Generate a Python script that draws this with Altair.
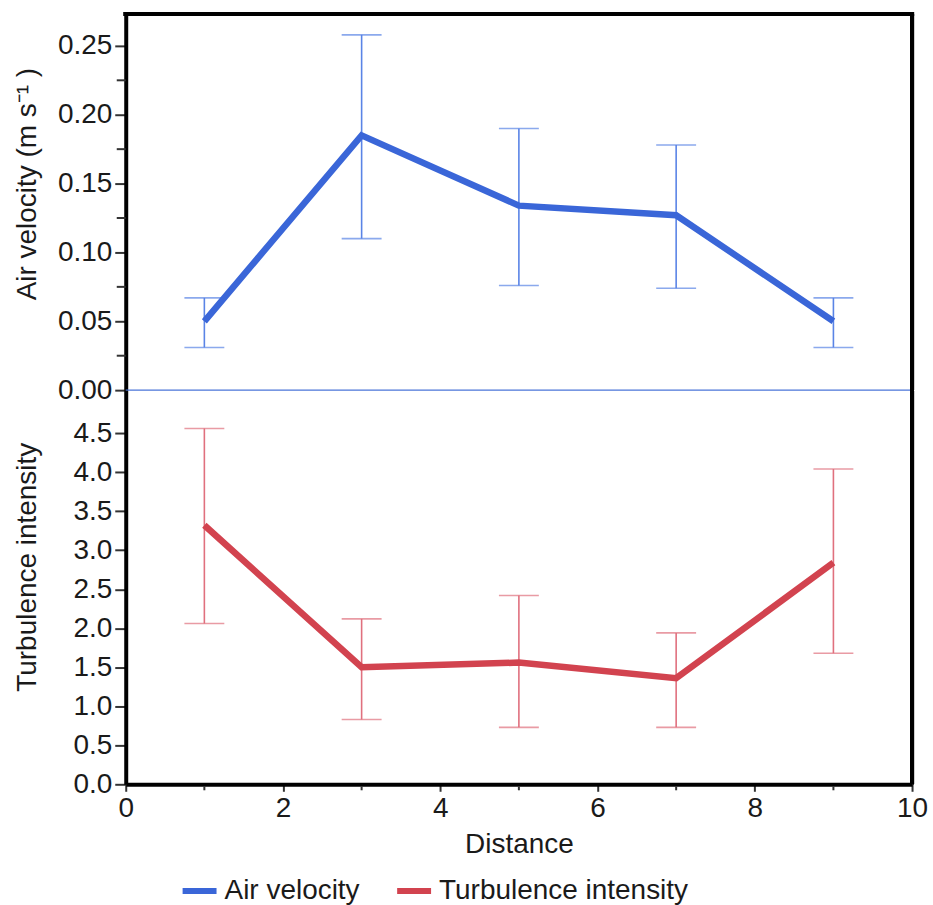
import altair as alt
import pandas as pd

# Measured profile along the distance axis
distance = [1, 3, 5, 7, 9]
air_velocity = [0.050, 0.185, 0.134, 0.127, 0.050]
air_lower = [0.031, 0.110, 0.076, 0.074, 0.031]
air_upper = [0.067, 0.258, 0.190, 0.178, 0.067]

turbulence = [3.32, 1.50, 1.56, 1.36, 2.84]
turb_lower = [2.06, 0.83, 0.73, 0.73, 1.68]
turb_upper = [4.56, 2.12, 2.42, 1.94, 4.04]

series_names = ["Air velocity", "Turbulence intensity"]
line_colors = ["#3a66d8", "#d2434f"]
bar_colors = ["#5a84e6", "#e0707e"]

x_ticks = [0, 2, 4, 6, 8, 10]
x_minor = [1, 3, 5, 7, 9]
air_ticks = [0.0, 0.05, 0.10, 0.15, 0.20, 0.25]
air_minor = [0.025, 0.075, 0.125, 0.175, 0.225]
turb_ticks = [0.0, 0.5, 1.0, 1.5, 2.0, 2.5, 3.0, 3.5, 4.0, 4.5]

W = 788
H_TOP = 377
H_BOT = 395
FONT = "Liberation Sans"
FS = 28

air_df = pd.DataFrame({
    "distance": distance, "value": air_velocity,
    "lower": air_lower, "upper": air_upper, "series": series_names[0],
})
turb_df = pd.DataFrame({
    "distance": distance, "value": turbulence,
    "lower": turb_lower, "upper": turb_upper, "series": series_names[1],
})

x_scale = alt.Scale(domain=[0, 10], nice=False, zero=False)
color_scale = alt.Scale(domain=series_names, range=line_colors)


def y_axis(title, values, fmt, title_y):
    return alt.Axis(
        title=title, values=values, format=fmt,
        labelFontSize=FS, titleFontSize=FS, titleFontWeight="normal",
        labelColor="#1a1a1a", titleColor="#1a1a1a",
        tickSize=11, tickWidth=2, tickColor="#333333",
        domainColor="black", domainWidth=4,
        grid=False, labelPadding=3,
        titleAngle=270, titleX=-90, titleY=title_y,
        titleBaseline="alphabetic", titleAlign="center",
    )


def panel(df, domain, axis, bar_color, height, minor=None, x_axis=None):
    base = alt.Chart(df)
    y_scale = alt.Scale(domain=domain, nice=False)
    x_enc = alt.X("distance:Q", scale=x_scale, axis=x_axis)
    err = base.mark_rule(color=bar_color, strokeWidth=1.6).encode(
        x=x_enc, y=alt.Y("lower:Q", scale=y_scale, axis=axis), y2="upper:Q"
    )
    cap_lo = base.mark_tick(orient="horizontal", color=bar_color, size=40, thickness=1.6).encode(
        x="distance:Q", y="lower:Q"
    )
    cap_hi = base.mark_tick(orient="horizontal", color=bar_color, size=40, thickness=1.6).encode(
        x="distance:Q", y="upper:Q"
    )
    line = base.mark_line(strokeWidth=6.5).encode(
        x="distance:Q", y="value:Q",
        color=alt.Color("series:N", scale=color_scale, title=None),
    )
    top_border = base.mark_rule(color="black", strokeWidth=4).encode(
        x=alt.value(-2), x2=alt.value(W + 2), y=alt.value(0)
    )
    right_border = base.mark_rule(color="black", strokeWidth=4).encode(
        x=alt.value(W), y=alt.value(0), y2=alt.value(height)
    )
    layers = [err, cap_lo, cap_hi, line, right_border]
    if minor is not None:
        mdf = pd.DataFrame({"v": minor})
        layers.append(
            alt.Chart(mdf).mark_rule(color="#333333", strokeWidth=2).encode(
                y="v:Q", x=alt.value(-9), x2=alt.value(0)
            )
        )
    return layers, top_border


# Upper panel: air velocity
top_layers, top_border = panel(
    air_df, [0, H_TOP / 1380], y_axis("Air velocity (m s⁻¹ )", air_ticks, ".2f", 170),
    bar_colors[0], H_TOP, minor=air_minor, x_axis=None,
)
zero_line = alt.Chart(pd.DataFrame({"z": [0.0]})).mark_rule(color="#4a74d8", strokeWidth=1.2).encode(
    y="z:Q", x=alt.value(0), x2=alt.value(W)
)
top = alt.layer(zero_line, *top_layers, top_border).properties(width=W, height=H_TOP)

# Lower panel: turbulence intensity
x_axis = alt.Axis(
    title="Distance", values=x_ticks, format="d",
    labelFontSize=FS, titleFontSize=FS, titleFontWeight="normal",
    labelColor="#1a1a1a", titleColor="#1a1a1a",
    tickSize=7, tickWidth=2, tickColor="#333333",
    domainColor="black", domainWidth=4, grid=False,
    labelPadding=3, titlePadding=8, labelFlush=False,
)
bot_layers, _ = panel(
    turb_df, [0, H_BOT / 78.2], y_axis("Turbulence intensity", turb_ticks, ".1f", 177),
    bar_colors[1], H_BOT, x_axis=x_axis,
)
x_minor_ticks = alt.Chart(pd.DataFrame({"m": x_minor})).mark_rule(color="#333333", strokeWidth=2).encode(
    x="m:Q", y=alt.value(H_BOT + 2), y2=alt.value(H_BOT + 6)
)
bottom = alt.layer(*bot_layers, x_minor_ticks).properties(width=W, height=H_BOT)

chart = (
    alt.vconcat(top, bottom, spacing=0, bounds="flush")
    .resolve_scale(color="shared")
    .configure(font=FONT)
    .configure_view(stroke=None)
    .configure_legend(
        orient="none", legendX=54, legendY=859, direction="horizontal",
        labelFontSize=FS, labelColor="#1a1a1a", labelFont=FONT,
        symbolType="stroke", symbolStrokeWidth=6, symbolSize=1156,
        labelOffset=5, columnPadding=25, labelLimit=400,
    )
    .properties(background="white", padding={"left": 14, "top": 11, "right": 5, "bottom": 5})
)

chart.save("out.html", embed_options={"renderer": "svg", "actions": False})
